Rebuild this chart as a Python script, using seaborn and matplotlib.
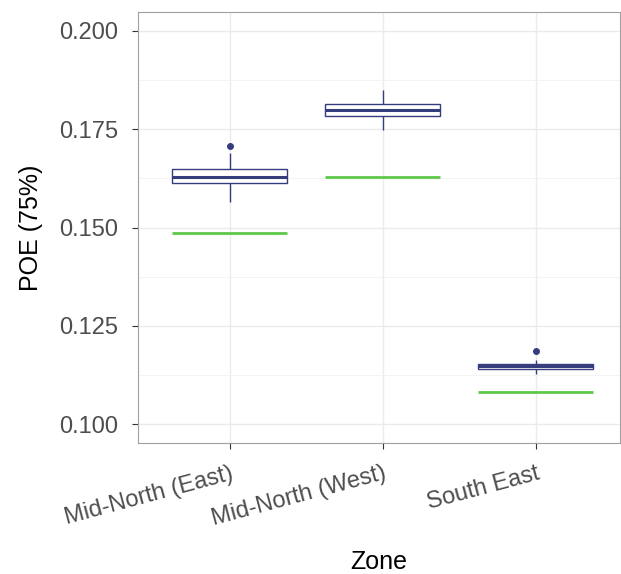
import matplotlib
matplotlib.use("Agg")
import matplotlib.pyplot as plt
from matplotlib.ticker import MultipleLocator
import pandas as pd
import seaborn as sns

# values
zones = ["Mid-North (East)", "Mid-North (West)", "South East"]
east = [0.1565, 0.1590, 0.16125, 0.1620, 0.16285, 0.1640, 0.1650, 0.1690, 0.1708]
west = [0.1748, 0.1770, 0.17837, 0.1790, 0.1799, 0.1805, 0.18143, 0.1830, 0.1850]
south = [0.1127, 0.1135, 0.1140, 0.1145, 0.1149, 0.1151, 0.11535, 0.1163, 0.1185]
reference = [0.1487, 0.1629, 0.1081]

NAVY = "#363D7E"
GREEN = "#5DC84A"
BOX_W = 0.75

df = pd.DataFrame({
    "Zone": [zones[0]] * len(east) + [zones[1]] * len(west) + [zones[2]] * len(south),
    "POE": east + west + south,
})

sns.set_theme(style="white")
plt.rcParams["font.family"] = ["Liberation Sans", "DejaVu Sans"]

fig = plt.figure(figsize=(6.21, 5.74), dpi=100)
ax = fig.add_axes([0.2222, 0.2282, 0.7762, 0.7508])

sns.boxplot(data=df, x="Zone", y="POE", order=zones, ax=ax, width=BOX_W,
            color="white", linecolor=NAVY, linewidth=1.0, showcaps=False,
            medianprops={"linewidth": 2.2, "color": NAVY},
            flierprops={"marker": "o", "markersize": 4, "markerfacecolor": NAVY,
                        "markeredgecolor": NAVY})

for i, ref in enumerate(reference):
    ax.hlines(ref, i - BOX_W / 2, i + BOX_W / 2, color=GREEN, linewidth=2, zorder=3)

ax.set_ylim(0.0952, 0.2048)
ax.set_xlim(-0.6, 2.55)
ax.yaxis.set_major_locator(MultipleLocator(0.025))
ax.yaxis.set_minor_locator(MultipleLocator(0.0125))
ax.yaxis.set_major_formatter(matplotlib.ticker.FormatStrFormatter("%.3f"))
ax.set_axisbelow(True)
ax.grid(which="major", axis="both", color="#EBEBEB", linewidth=1.0)
ax.grid(which="minor", axis="y", color="#F2F2F2", linewidth=0.6)

for sp in ax.spines.values():
    sp.set_color("#A0A0A0")
    sp.set_linewidth(0.8)

ax.tick_params(axis="both", which="major", length=4, width=0.8, color="#333333",
               labelsize=17, labelcolor="#4D4D4D", left=True, bottom=True)
ax.tick_params(axis="x", which="major", pad=10)
ax.tick_params(axis="y", which="major", pad=10)
ax.tick_params(axis="y", which="minor", length=0)
for lab in ax.get_xticklabels():
    lab.set_rotation(15)
    lab.set_ha("right")
    lab.set_rotation_mode("anchor")

ax.set_xlabel("Zone", fontsize=18, color="black", labelpad=14)
ax.set_ylabel("POE (75%)", fontsize=18, color="black", labelpad=12)

fig.savefig("out.png", dpi=100)
